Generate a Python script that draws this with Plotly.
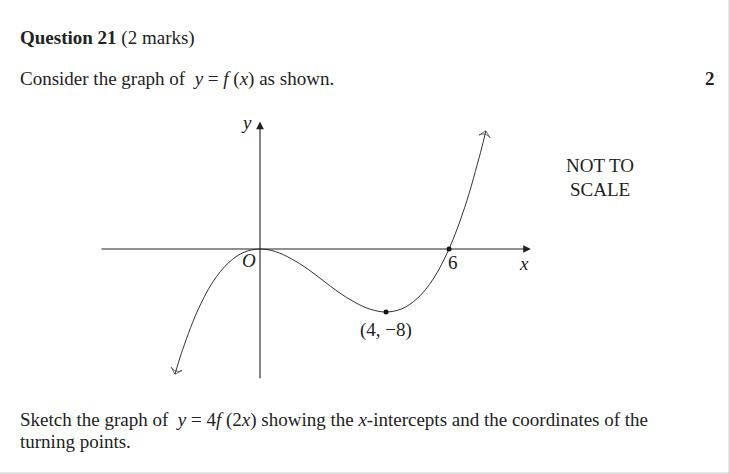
import plotly.graph_objects as go

curve_x = [-2.7, -2.5, -2.0, -1.5, -1.0, -0.5, 0.0, 0.5, 1.0, 1.5, 2.0, 2.5, 3.0,
           3.5, 4.0, 4.5, 5.0, 5.5, 6.0, 6.5, 7.0, 7.17]
curve_y = [-15.9, -13.3, -8.0, -4.2, -1.75, -0.4, 0.0, -0.34, -1.25, -2.5, -4.0,
           -5.5, -6.75, -7.65, -8.0, -7.6, -6.25, -3.8, 0.0, 5.3, 12.25, 15.0]

# Labelled points
point_x = [0, 4, 6]
point_y = [0, -8, 0]
point_labels = ["O", "(4, −8)", "6"]

# Axis extents
x_axis_ext = [-5.08, 8.6]
y_axis_ext = [-16.6, 16.2]

W, H = 730, 474
x_range = [-260 / 31.5, 470 / 31.5]
y_range = [-225 / 7.875, 249 / 7.875]

SERIF = "Liberation Serif, Times New Roman, serif"
INK = "#222222"
FS = 19

fig = go.Figure()

# curve
fig.add_trace(go.Scatter(x=curve_x, y=curve_y, mode="lines",
                         line=dict(color="#333333", width=1.0, shape="spline"),
                         hoverinfo="skip", showlegend=False))
# open arrowheads at curve ends
for i0, i1 in [(1, 0), (-2, -1)]:
    fig.add_trace(go.Scatter(x=[curve_x[i0], curve_x[i1]], y=[curve_y[i0], curve_y[i1]],
                             mode="markers",
                             marker=dict(symbol=["circle", "arrow-wide-open"], size=[0, 8],
                                         angleref="previous", color="#333333",
                                         line=dict(width=1, color="#333333")),
                             hoverinfo="skip", showlegend=False))
# dots at turning point and intercept
fig.add_trace(go.Scatter(x=point_x[1:], y=point_y[1:], mode="markers",
                         marker=dict(color="#111111", size=5),
                         hoverinfo="skip", showlegend=False))

# axes with filled arrowheads
fig.add_annotation(x=x_axis_ext[1], y=0, ax=x_axis_ext[0], ay=0, xref="x", yref="y",
                   axref="x", ayref="y", showarrow=True, arrowhead=2, arrowsize=1.4,
                   arrowwidth=1.1, arrowcolor=INK, text="")
fig.add_annotation(x=0, y=y_axis_ext[1], ax=0, ay=y_axis_ext[0], xref="x", yref="y",
                   axref="x", ayref="y", showarrow=True, arrowhead=2, arrowsize=1.4,
                   arrowwidth=1.1, arrowcolor=INK, text="")

# point labels
fig.add_annotation(x=point_x[0], y=point_y[0], text="<i>" + point_labels[0] + "</i>",
                   showarrow=False, xshift=-11, yshift=-11,
                   font=dict(family=SERIF, size=FS, color=INK))
fig.add_annotation(x=point_x[1], y=point_y[1], text=point_labels[1],
                   showarrow=False, yshift=-18,
                   font=dict(family=SERIF, size=FS, color=INK))
fig.add_annotation(x=point_x[2], y=point_y[2], text=point_labels[2],
                   showarrow=False, xshift=4, yshift=-13,
                   font=dict(family=SERIF, size=FS, color=INK))
# axis labels
fig.add_annotation(x=0, y=y_axis_ext[1], text="<i>y</i>", showarrow=False,
                   xshift=-14, yshift=-1, font=dict(family=SERIF, size=FS, color=INK))
fig.add_annotation(x=x_axis_ext[1], y=0, text="<i>x</i>", showarrow=False,
                   xshift=-7, yshift=-14, font=dict(family=SERIF, size=FS, color=INK))

# page texts (paper coordinates)
def ptext(px, py, text, anchor="left", size=FS):
    fig.add_annotation(x=px / W, y=1 - py / H, xref="paper", yref="paper",
                       text=text, showarrow=False, xanchor=anchor, yanchor="middle",
                       borderpad=0, font=dict(family=SERIF, size=size, color=INK))

ptext(19, 38, "<b>Question 21</b> (2 marks)")
ptext(19, 79, "Consider the graph of  <i>y</i> = <i>f</i> (<i>x</i>) as shown.")
ptext(716, 79, "<b>2</b>", anchor="right")
ptext(600, 166, "NOT TO", anchor="center")
ptext(600, 189, "SCALE", anchor="center")
ptext(19, 420, "Sketch the graph of  <i>y</i> = 4<i>f</i> (2<i>x</i>) showing the "
               "<i>x</i>-intercepts and the coordinates of the")
ptext(19, 441, "turning points.")

# page border (right and bottom)
fig.add_shape(type="line", xref="paper", yref="paper", x0=1, x1=1, y0=0, y1=1,
              line=dict(color="#d4d4d4", width=3))
fig.add_shape(type="line", xref="paper", yref="paper", x0=0, x1=1, y0=0, y1=0,
              line=dict(color="#d4d4d4", width=3))

fig.update_layout(width=W, height=H, margin=dict(l=0, r=0, t=0, b=0),
                  paper_bgcolor="white", plot_bgcolor="white",
                  xaxis=dict(range=x_range, visible=False, fixedrange=True),
                  yaxis=dict(range=y_range, visible=False, fixedrange=True),
                  showlegend=False)

fig.write_html("out.html", config={"displayModeBar": False},
               post_script="document.body.style.margin='0';")
